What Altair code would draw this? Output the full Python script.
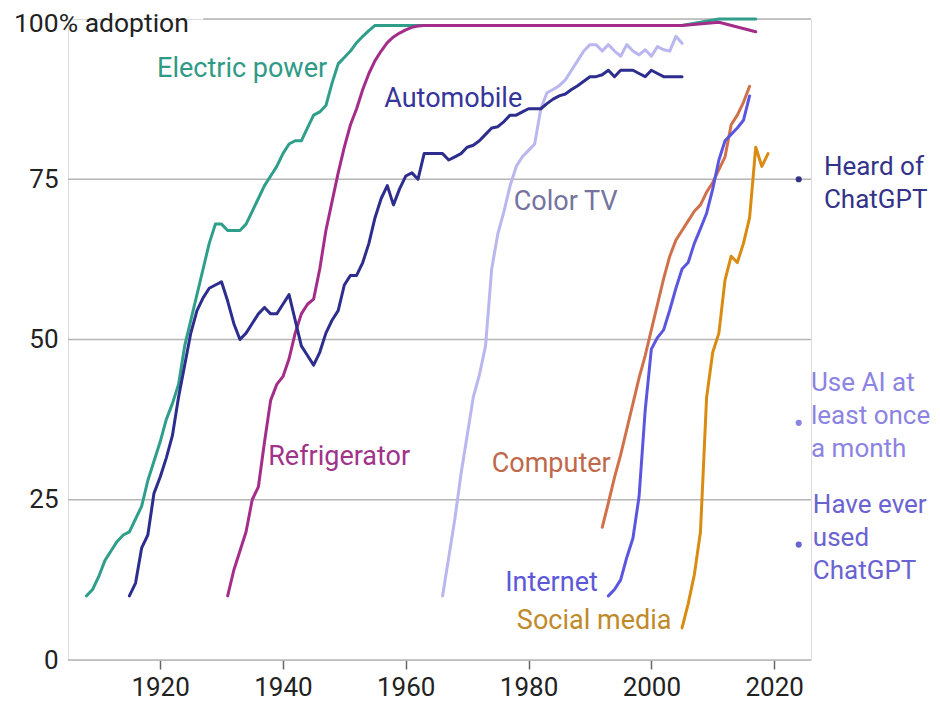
import altair as alt
import pandas as pd

# ---------------- data ----------------
electric_years = list(range(1908, 1957)) + [2005, 2008, 2011, 2017]
electric_vals = [10, 11, 13, 15.5, 17, 18.5, 19.5, 20, 22, 24,
                 28, 31, 34, 37.5, 40, 43, 49, 53, 57, 61,
                 65, 68, 68, 67, 67, 67, 68, 70, 72, 74,
                 75.5, 77, 79, 80.5, 81, 81, 83, 85, 85.5, 86.5,
                 90, 93, 94, 95, 96.3, 97.3, 98.2, 99, 99,
                 99, 99.5, 100, 100]

auto_years = list(range(1915, 2006))
auto_vals = [10, 12, 17.5, 19.5, 26, 28.5, 31.5, 35, 41, 46,
             51, 54.5, 56.5, 58, 58.5, 59, 56, 52.5, 50, 51,
             52.5, 54, 55, 54, 54, 55.5, 57, 53, 49, 47.5,
             46, 48, 51, 53, 54.5, 58.5, 60, 60, 62, 65,
             69, 72, 74, 71, 73.5, 75.5, 76, 75, 79, 79,
             79, 79, 78, 78.5, 79, 80, 80.3, 81, 82, 83,
             83.2, 84, 85, 85, 85.5, 86, 86, 86, 86.8, 87.5,
             88, 88.3, 89, 89.6, 90.3, 91, 91, 91.3, 92, 91,
             92, 92, 92, 91.5, 91, 92, 91.5, 91, 91, 91, 91]

fridge_years = list(range(1931, 1964)) + [2005, 2011, 2017]
fridge_vals = [10, 14, 17, 20, 25, 27, 34, 40.5, 43, 44.2,
               47, 51, 54, 55.5, 56.3, 61, 67, 71.5, 76, 80,
               83.5, 86, 89, 91.5, 93.5, 95, 96.3, 97.2, 97.8, 98.3,
               98.7, 98.9, 99,
               99, 99.5, 98]

tv_years = list(range(1966, 2006))
tv_vals = [10, 16, 22, 29, 35, 41, 44.5, 49, 61, 66.5,
           70, 74, 77, 78.5, 79.5, 80.5, 86, 88.5, 89, 89.6,
           90.5, 92, 93.5, 95, 96, 96, 95, 96, 95, 94.2,
           96, 95, 94.4, 95.2, 94.2, 95.7, 95.2, 95, 97.3, 96.2]

computer_years = list(range(1992, 2017))
computer_vals = [20.7, 24.5, 28.5, 32, 36, 40, 44, 47.5, 51.5, 55.5,
                 59.5, 63, 65.5, 67, 68.5, 70, 71, 73, 74.5, 76.5,
                 78.5, 83.5, 85, 87, 89.5]

internet_years = list(range(1993, 2017))
internet_vals = [10, 11, 12.5, 16, 19, 25.5, 39, 48.5, 50.3, 51.5,
                 54.6, 58, 61, 62, 65, 67.3, 69.7, 73.5, 78, 81,
                 82, 83, 84.2, 88]

social_years = list(range(2005, 2020))
social_vals = [5, 8.8, 13.3, 20, 41, 48, 51, 59.3, 63, 62,
               65, 69, 80, 77, 79]

series_names = ["Electric power", "Refrigerator", "Color TV", "Automobile",
                "Computer", "Internet", "Social media"]
series_years = [electric_years, fridge_years, tv_years, auto_years,
                computer_years, internet_years, social_years]
series_vals = [electric_vals, fridge_vals, tv_vals, auto_vals,
               computer_vals, internet_vals, social_vals]

survey_labels = ["Heard of\nChatGPT", "Use AI at\nleast once\na month",
                 "Have ever\nused\nChatGPT"]
survey_year = [2024, 2024, 2024]
survey_vals = [75, 37, 18]

x_ticks = [1920, 1940, 1960, 1980, 2000, 2020]
y_ticks = [0, 25, 50, 75]

# ---------------- styles ----------------
FONT = "Roboto"
line_colors = {
    "Electric power": "#2f9e8a", "Refrigerator": "#a32d89", "Color TV": "#bab6ef",
    "Automobile": "#2d2d8e", "Computer": "#d0714c", "Internet": "#5b56df",
    "Social media": "#d98b12",
}
label_colors = {
    "Electric power": "#2f9a86", "Refrigerator": "#a0338a", "Color TV": "#75739f",
    "Automobile": "#35359a", "Computer": "#c0684a", "Internet": "#5c58d8",
    "Social media": "#c08a2a",
}
# label anchor (year, value at text baseline)
label_pos = {
    "Electric power": (1919.5, 91.0), "Automobile": (1956.5, 86.3),
    "Color TV": (1977.6, 70.2), "Refrigerator": (1937.6, 30.4),
    "Computer": (1974.0, 29.4), "Internet": (1976.2, 10.7),
    "Social media": (1978.1, 4.9),
}
survey_colors = ["#33338a", "#8c84e2", "#6a63d2"]
survey_text_pos = [(2028.1, 75.66), (2026.0, 42.0), (2026.3, 22.9)]

XDOM = [1905, 2026]
YDOM = [0, 100]

x_axis = alt.Axis(values=x_ticks, format="d", title=None, grid=False, domain=False,
                  labelFont=FONT, labelFontSize=26, labelColor="#222222",
                  tickColor="#666666", tickWidth=1.5, tickSize=9, labelPadding=5)
y_axis = alt.Axis(values=y_ticks, title=None, grid=False, domain=False, ticks=False,
                  labelFont=FONT, labelFontSize=26, labelColor="#222222",
                  labelPadding=10)


def X(field):
    return alt.X(field, type="quantitative", scale=alt.Scale(domain=XDOM, nice=False, zero=False),
                 axis=x_axis)


def Y(field):
    return alt.Y(field, type="quantitative", scale=alt.Scale(domain=YDOM, nice=False), axis=y_axis)


# gridlines
grid_df = pd.DataFrame({"v": [0, 25, 50, 75, 100],
                        "x1": [1905, 1905, 1905, 1905, 1927],
                        "x2": [2026] * 5})
grid = alt.Chart(grid_df).mark_rule(color="#b5b5b5", strokeWidth=1.5).encode(
    x=X("x1"), x2="x2", y=Y("v"))

layers = [grid]
for name, yrs, vals in zip(series_names, series_years, series_vals):
    df = pd.DataFrame({"year": yrs, "value": vals})
    layers.append(
        alt.Chart(df).mark_line(color=line_colors[name], strokeWidth=3,
                                strokeJoin="round", strokeCap="round").encode(
            x=X("year"), y=Y("value"), order="year:Q"))

for name in series_names:
    lx, ly = label_pos[name]
    df = pd.DataFrame({"x": [lx], "y": [ly], "t": [name]})
    layers.append(
        alt.Chart(df).mark_text(align="left", baseline="alphabetic", font=FONT, fontSize=27,
                                color=label_colors[name]).encode(
            x=X("x"), y=Y("y"), text="t:N"))

for lab, yr, val, col, (tx, ty) in zip(survey_labels, survey_year, survey_vals,
                                       survey_colors, survey_text_pos):
    pdf = pd.DataFrame({"year": [yr], "value": [val]})
    layers.append(alt.Chart(pdf).mark_circle(size=38, color=col, opacity=1).encode(
        x=X("year"), y=Y("value")))
    tdf = pd.DataFrame({"x": [tx], "y": [ty], "t": [lab]})
    layers.append(alt.Chart(tdf).mark_text(align="left", baseline="alphabetic", font=FONT,
                                           fontSize=26, lineHeight=33, lineBreak="\n",
                                           color=col).encode(
        x=X("x"), y=Y("y"), text="t:N"))

# "100% adoption" label for the top gridline
top_df = pd.DataFrame({"x": [1896.2], "y": [98.0], "t": ["100% adoption"]})
layers.append(alt.Chart(top_df).mark_text(align="left", baseline="alphabetic", font=FONT,
                                          fontSize=26.5, color="#222222").encode(
    x=X("x"), y=Y("y"), text="t:N"))

chart = alt.layer(*layers).properties(
    width=743, height=641,
    padding={"left": 60, "top": 11, "right": 121, "bottom": 40},
    autosize=alt.AutoSizeParams(type="none"),
).configure_view(stroke=None).configure(background="white")

chart.save("out.html", embed_options={"renderer": "svg", "actions": False})
